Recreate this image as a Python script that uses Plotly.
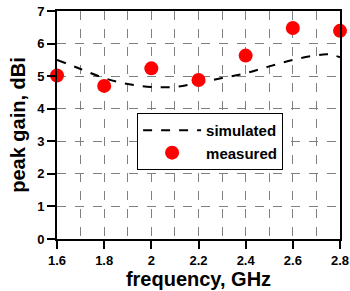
import plotly.graph_objects as go

sim_freq = [1.6, 1.7, 1.8, 1.9, 2.0, 2.1, 2.2, 2.3, 2.4, 2.5, 2.6, 2.7, 2.75, 2.8]
sim_gain = [5.50, 5.22, 4.94, 4.76, 4.67, 4.67, 4.80, 4.94, 5.09, 5.30, 5.50, 5.64, 5.67, 5.58]

meas_freq = [1.6, 1.8, 2.0, 2.2, 2.4, 2.6, 2.8]
meas_gain = [5.02, 4.70, 5.24, 4.88, 5.63, 6.48, 6.39]

x_tickvals = [1.6, 1.8, 2.0, 2.2, 2.4, 2.6, 2.8]
x_ticklabels = ["1.6", "1.8", "2", "2.2", "2.4", "2.6", "2.8"]
y_tickvals = [0, 1, 2, 3, 4, 5, 6, 7]
y_ticklabels = ["0", "1", "2", "3", "4", "5", "6", "7"]

font = "Liberation Sans, Arial, sans-serif"

fig = go.Figure()
fig.add_trace(go.Scatter(x=sim_freq, y=sim_gain, mode="lines", name="<b>simulated</b>",
                         line=dict(color="black", width=2, dash="dash", shape="spline"),
                         cliponaxis=False))
fig.add_trace(go.Scatter(x=meas_freq, y=meas_gain, mode="markers", name="<b>measured</b>",
                         marker=dict(color="#ff0000", size=14), cliponaxis=False))

fig.update_layout(
    width=350, height=291,
    margin=dict(l=57, r=10, t=11, b=52, autoexpand=False),
    plot_bgcolor="white", paper_bgcolor="white",
    font=dict(family=font, color="black"),
    showlegend=True,
    legend=dict(x=0.283, y=0.553, xanchor="left", yanchor="top",
                bgcolor="white", bordercolor="black", borderwidth=1,
                font=dict(family=font, size=15, color="black"),
                itemwidth=58, tracegroupgap=0, itemsizing="trace"),
    xaxis=dict(range=[1.6, 2.8], tickvals=x_tickvals, ticktext=["<b>%s</b>" % t for t in x_ticklabels],
               automargin=False,
               showline=True, linecolor="black", linewidth=2, mirror=True,
               ticks="outside", ticklen=8, tickwidth=2, tickcolor="black",
               tickfont=dict(family=font, size=13, color="black"),
               showgrid=True, gridcolor="#808080", gridwidth=1, griddash="dash",
               minor=dict(dtick=0.1, tick0=1.6, showgrid=True, gridcolor="#808080", gridwidth=1, griddash="dash"),
               zeroline=False,
               title=dict(text="<b>frequency, GHz</b>", font=dict(family=font, size=20), standoff=2)),
    yaxis=dict(range=[0, 7], tickvals=y_tickvals, ticktext=["<b>%s</b>" % t for t in y_ticklabels],
               automargin=False,
               showline=True, linecolor="black", linewidth=2, mirror=True,
               ticks="outside", ticklen=8, tickwidth=2, tickcolor="black",
               tickfont=dict(family=font, size=13, color="black"),
               showgrid=True, gridcolor="#808080", gridwidth=1, griddash="dash",
               zeroline=False,
               title=dict(text="<b>peak gain, dBi</b>", font=dict(family=font, size=20), standoff=6)),
)

fig.write_html("out.html", config={"displayModeBar": False},
               post_script="document.body.style.margin='0';document.body.style.overflow='hidden';")
